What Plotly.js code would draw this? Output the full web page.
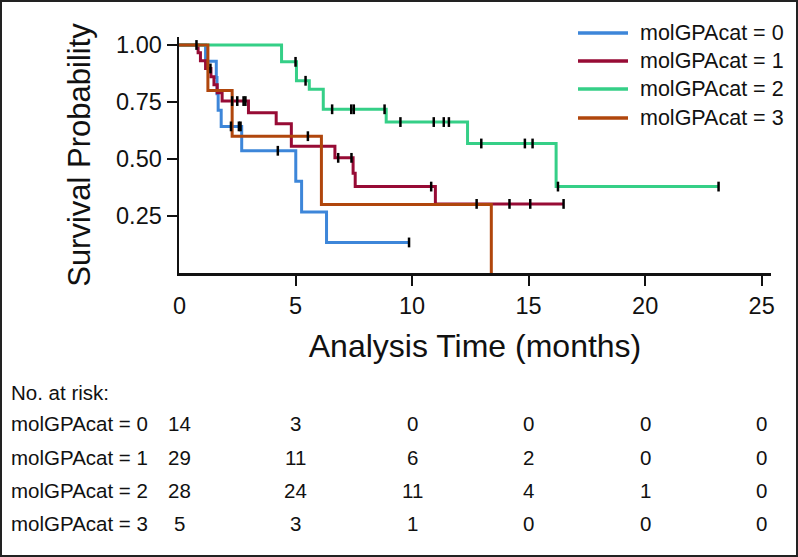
<!DOCTYPE html>
<html>
<head>
<meta charset="utf-8">
<script src="https://cdn.plot.ly/plotly-3.0.1.min.js"></script>
<style>
  html, body { margin: 0; padding: 0; background: #fff; }
  #km { width: 794px; height: 553px; border: 2px solid #222; }
</style>
</head>
<body>
<div id="km"></div>
<script>
// Kaplan-Meier steps (time in months, survival probability)
var groups = ['molGPAcat = 0', 'molGPAcat = 1', 'molGPAcat = 2', 'molGPAcat = 3'];
var colors = ['#3d86d9', '#970b35', '#35cf87', '#b0460c'];

var time0 = [0, 1.14, 1.6, 1.63, 1.68, 1.81, 2.69, 5.01, 5.26, 6.33, 9.87];
var surv0 = [1, 0.929, 0.857, 0.786, 0.714, 0.643, 0.536, 0.402, 0.268, 0.134, 0.134];
var cens0 = [2.23, 2.57, 2.64, 4.24, 9.87];

var time1 = [0, 0.82, 0.92, 1.14, 1.37, 1.5, 1.64, 1.85, 2.98, 4.17, 4.82, 6.69, 7.47, 7.56, 11.0, 16.5];
var surv1 = [1, 0.966, 0.931, 0.897, 0.861, 0.826, 0.79, 0.754, 0.703, 0.655, 0.556, 0.505, 0.438, 0.379, 0.303, 0.303];
var cens1 = [1.35, 2.28, 2.5, 2.77, 2.85, 6.83, 7.4, 10.82, 12.77, 14.18, 15.07, 16.5];

var time2 = [0, 4.4, 5.04, 5.59, 6.19, 8.89, 12.38, 16.18, 23.15];
var surv2 = [1, 0.926, 0.843, 0.806, 0.718, 0.662, 0.568, 0.379, 0.379];
var cens2 = [0.75, 5.0, 5.43, 6.57, 7.39, 7.5, 8.82, 9.5, 10.93, 11.36, 11.58, 12.97, 14.84, 15.17, 16.26, 23.15];

var time3 = [0, 1.24, 2.28, 6.11, 13.4];
var surv3 = [1, 0.8, 0.6, 0.3, 0];
var cens3 = [5.53];

// number at risk table
var riskTimes = [0, 5, 10, 15, 20, 25];
var risk0 = [14, 3, 0, 0, 0, 0];
var risk1 = [29, 11, 6, 2, 0, 0];
var risk2 = [28, 24, 11, 4, 1, 0];
var risk3 = [5, 3, 1, 0, 0, 0];

var xTicks = [5, 10, 15, 20, 25];   // 0 is written separately (no tick mark there)
var yTicks = [0.25, 0.5, 0.75, 1];

var times = [time0, time1, time2, time3];
var survs = [surv0, surv1, surv2, surv3];
var cens = [cens0, cens1, cens2, cens3];
var risks = [risk0, risk1, risk2, risk3];

var FONT = 'Liberation Sans, Arial, Helvetica, sans-serif';
var INK = '#111';

// page pixel -> paper coords (plot area is 179..771 x 37..273 on the page)
function px(x) { return (x - 179) / 592; }
function py(y) { return (273 - y) / 236; }

// survival value at a censoring time
function survAt(t, s, c) {
    var v = s[0];
    for (var i = 0; i < t.length; i++) {
        if (t[i] <= c) v = s[i];
    }
    return v;
}

var data = [];
for (var g = 0; g < 4; g++) {
    data.push({
        x: times[g],
        y: survs[g],
        name: groups[g],
        mode: 'lines',
        line: {shape: 'hv', color: colors[g], width: 3},
        showlegend: false
    });
}
for (var g = 0; g < 4; g++) {
    var cy = [];
    for (var k = 0; k < cens[g].length; k++) {
        cy.push(survAt(times[g], survs[g], cens[g][k]));
    }
    data.push({
        x: cens[g],
        y: cy,
        name: groups[g] + ' censored',
        mode: 'markers',
        marker: {symbol: 'line-ns', size: 7, color: '#000', line: {color: '#000', width: 2.5}},
        showlegend: false,
        cliponaxis: false
    });
}

var shapes = [];
var annotations = [];

// legend drawn by hand so the line samples match the picture
var legendY = [33, 61, 89, 118];
for (var g = 0; g < 4; g++) {
    shapes.push({
        type: 'line', xref: 'paper', yref: 'paper',
        x0: px(578), x1: px(628), y0: py(legendY[g]), y1: py(legendY[g]),
        line: {color: colors[g], width: 3.5}
    });
    annotations.push({
        xref: 'paper', yref: 'paper', x: px(638), y: py(legendY[g]),
        xanchor: 'left', yanchor: 'middle', showarrow: false,
        text: groups[g], font: {family: FONT, size: 21.5, color: INK}
    });
}

// the "0" under the origin
annotations.push({
    xref: 'x', yref: 'paper', x: 0, y: py(306),
    xanchor: 'center', yanchor: 'middle', showarrow: false,
    text: '0', font: {family: FONT, size: 23.5, color: INK}
});

// number at risk table
annotations.push({
    xref: 'paper', yref: 'paper', x: px(9), y: py(392),
    xanchor: 'left', yanchor: 'middle', showarrow: false,
    text: 'No. at risk:', font: {family: FONT, size: 20.5, color: INK}
});
var rowY = [423, 457, 490, 523];
for (var g = 0; g < 4; g++) {
    annotations.push({
        xref: 'paper', yref: 'paper', x: px(9), y: py(rowY[g]),
        xanchor: 'left', yanchor: 'middle', showarrow: false,
        text: groups[g], font: {family: FONT, size: 20.5, color: INK}
    });
    for (var k = 0; k < riskTimes.length; k++) {
        annotations.push({
            xref: 'x', yref: 'paper', x: riskTimes[k], y: py(rowY[g]),
            xanchor: 'center', yanchor: 'middle', showarrow: false,
            text: String(risks[g][k]), font: {family: FONT, size: 20.5, color: INK}
        });
    }
}

var layout = {
    width: 794,
    height: 553,
    margin: {l: 177, r: 25, t: 35, b: 282},
    paper_bgcolor: '#fff',
    plot_bgcolor: '#fff',
    font: {family: FONT, color: INK},
    showlegend: false,
    xaxis: {
        range: [0, 25.4],
        tickvals: xTicks,
        ticks: 'outside', ticklen: 10, tickwidth: 2, tickcolor: INK,
        showline: true, linewidth: 2.5, linecolor: INK,
        showgrid: false, zeroline: false,
        tickfont: {family: FONT, size: 23.5, color: INK},
        title: {text: 'Analysis Time (months)', font: {family: FONT, size: 32, color: INK}, standoff: 17}
    },
    yaxis: {
        range: [0, 1.035],
        tickvals: yTicks,
        tickformat: '.2f',
        ticks: 'outside', ticklen: 10, tickwidth: 2, tickcolor: INK,
        showline: true, linewidth: 2.5, linecolor: INK,
        showgrid: false, zeroline: false,
        tickfont: {family: FONT, size: 23.5, color: INK},
        title: {text: 'Survival Probability', font: {family: FONT, size: 31, color: INK}, standoff: 16}
    },
    shapes: shapes,
    annotations: annotations
};

Plotly.newPlot('km', data, layout, {displayModeBar: false, staticPlot: true});
</script>
</body>
</html>
